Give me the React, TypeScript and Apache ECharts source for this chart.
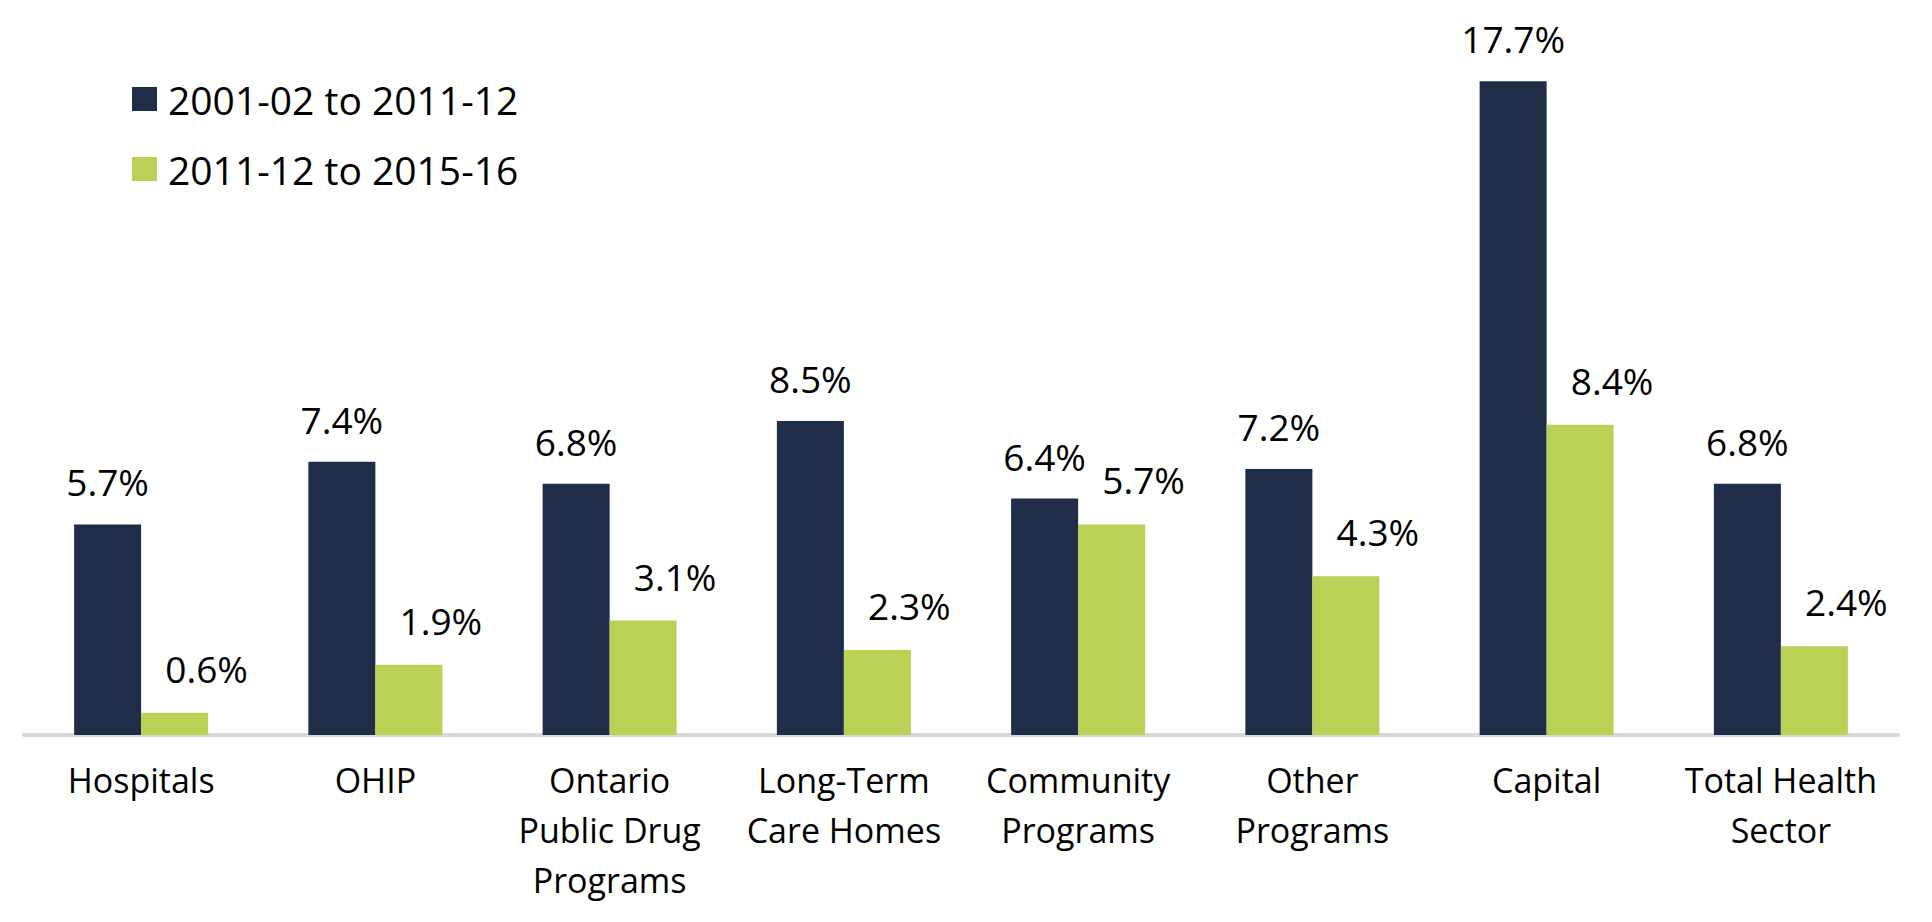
import React, { useEffect, useRef } from "react";
import * as echarts from "echarts";

const categories = [
  "Hospitals",
  "OHIP",
  "Ontario\nPublic Drug\nPrograms",
  "Long-Term\nCare Homes",
  "Community\nPrograms",
  "Other\nPrograms",
  "Capital",
  "Total Health\nSector",
];
const seriesNames = ["2001-02 to 2011-12", "2011-12 to 2015-16"];
const growth2001to2012 = [5.7, 7.4, 6.8, 8.5, 6.4, 7.2, 17.7, 6.8];
const growth2012to2016 = [0.6, 1.9, 3.1, 2.3, 5.7, 4.3, 8.4, 2.4];

const FONT = "'Open Sans', 'Noto Sans', sans-serif";
const NAVY = "#1f2d48";
const GREEN = "#b9d154";

export default function App() {
  const ref = useRef<HTMLDivElement>(null);

  useEffect(() => {
    if (!ref.current) return;
    const chart = echarts.init(ref.current, undefined, { renderer: "svg" });
    chart.setOption({
      animation: false,
      backgroundColor: "#ffffff",
      textStyle: { fontFamily: FONT },
      legend: {
        orient: "vertical",
        left: 127,
        top: 74,
        icon: "rect",
        itemWidth: 25,
        itemHeight: 24,
        itemGap: 30,
        selectedMode: false,
        textStyle: {
          fontFamily: FONT,
          fontSize: 39,
          lineHeight: 40,
          color: "#000000",
          padding: [0, 0, 0, 6],
        },
        data: seriesNames,
      },
      grid: { left: 24, right: 34, top: 0, bottom: 187, containLabel: false },
      xAxis: {
        type: "category",
        data: categories,
        axisLine: { show: true, lineStyle: { color: "#d9d9d9", width: 4 } },
        axisTick: { show: false },
        axisLabel: {
          interval: 0,
          margin: 20,
          fontFamily: FONT,
          fontSize: 34,
          lineHeight: 50,
          color: "#000000",
        },
      },
      yAxis: {
        type: "value",
        min: 0,
        max: 19.9,
        show: false,
        splitLine: { show: false },
      },
      series: [
        {
          name: seriesNames[0],
          type: "bar",
          data: growth2001to2012,
          barWidth: 67,
          barGap: "0%",
          itemStyle: { color: NAVY },
          label: {
            show: true,
            position: "top",
            distance: 24,
            formatter: "{c}%",
            fontFamily: FONT,
            fontSize: 37,
            color: "#000000",
          },
        },
        {
          name: seriesNames[1],
          type: "bar",
          data: growth2012to2016,
          barWidth: 67,
          barGap: "0%",
          itemStyle: { color: GREEN },
          label: {
            show: true,
            position: "top",
            distance: 26,
            offset: [32, 0],
            formatter: "{c}%",
            fontFamily: FONT,
            fontSize: 37,
            color: "#000000",
          },
        },
      ],
    });
    return () => chart.dispose();
  }, []);

  return (
    <div
      ref={ref}
      style={{ position: "fixed", left: 0, top: 0, width: "1932px", height: "922px" }}
    />
  );
}
